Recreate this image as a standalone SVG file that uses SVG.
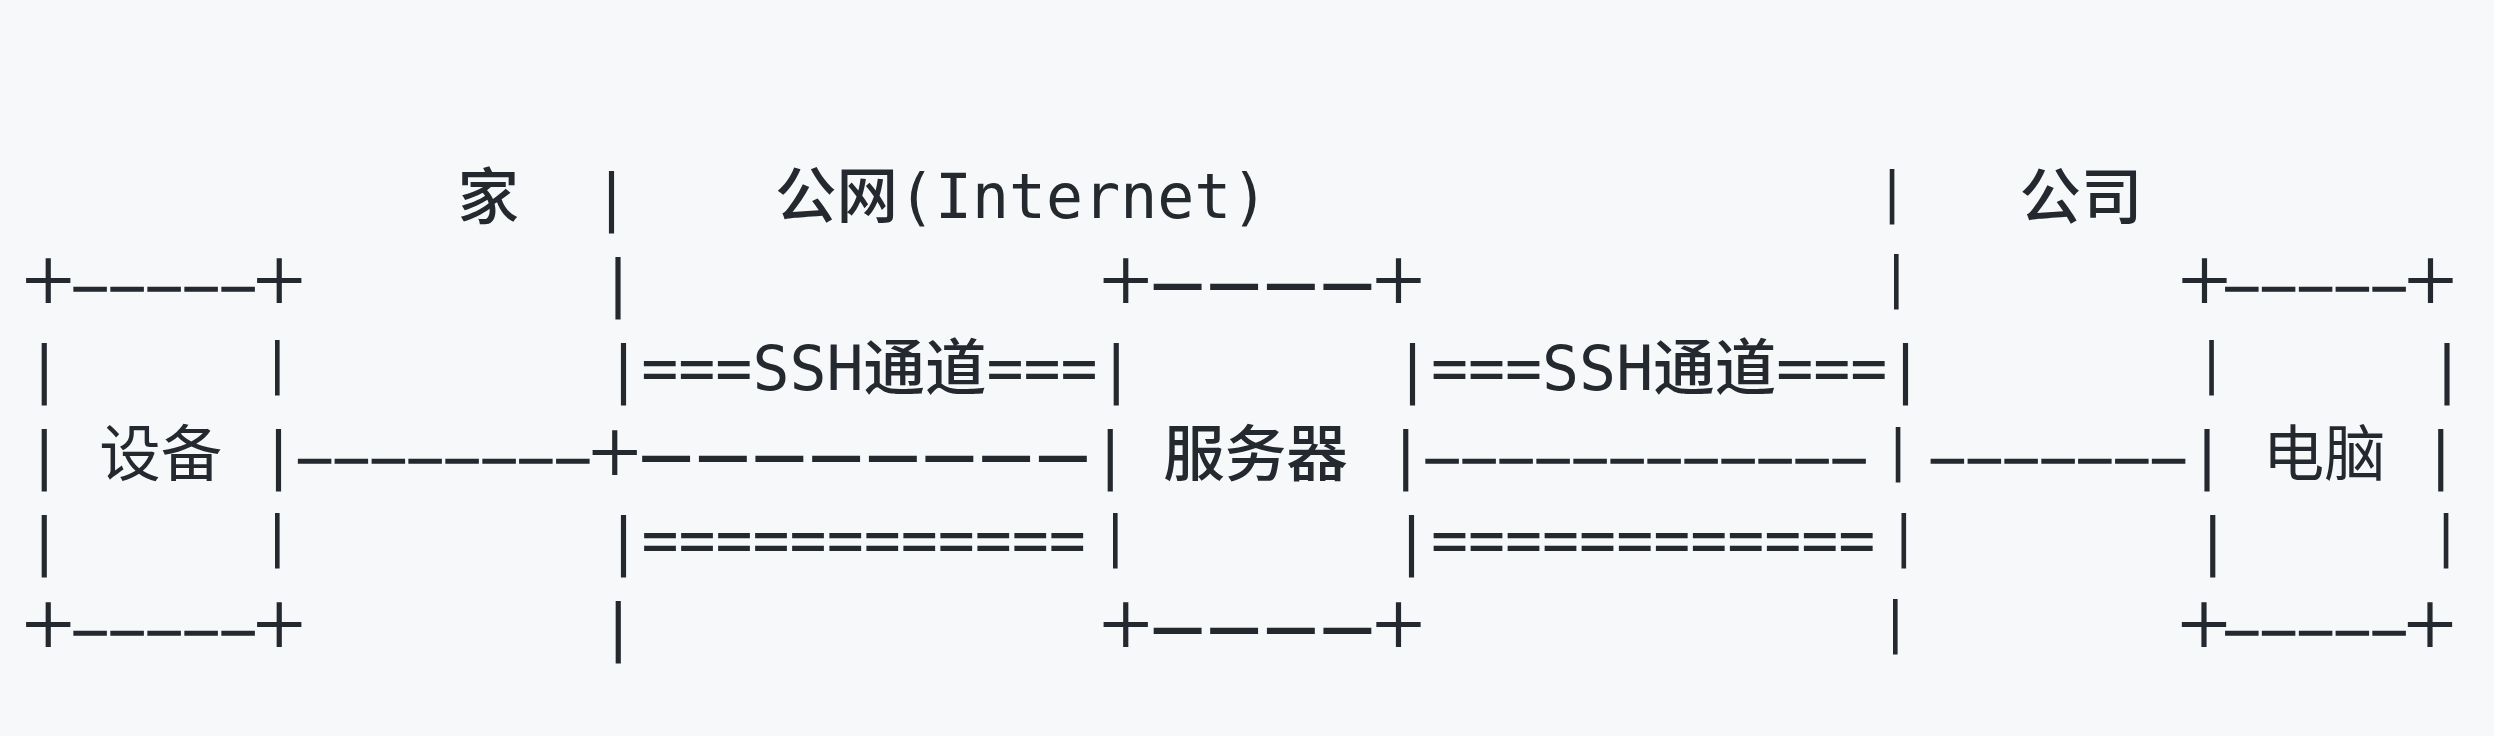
<svg xmlns="http://www.w3.org/2000/svg" width="2494" height="736" viewBox="0 0 2494 736">
<style>
.t{font-family:'DejaVu Sans Mono','Noto Sans CJK SC',monospace;font-size:61.5px;fill:#24292f}
.c{font-family:'Noto Sans CJK SC',sans-serif;font-size:61.5px;fill:#24292f}
.v{font-family:'DejaVu Sans Mono',monospace;font-size:55px;fill:#24292f}
.d{font-family:'DejaVu Sans Mono',monospace;font-size:53.5px;fill:#24292f;stroke:#24292f;stroke-width:1.3px}
.L{font-family:'Noto Sans CJK SC',sans-serif;font-size:57px;font-weight:500;fill:#24292f;stroke:#24292f;stroke-width:2px}
.b{font-weight:500}
.m{text-anchor:middle}
</style>
<rect width="2494" height="736" fill="#f6f8fa"/>
<g id="zones">
<text class="c b m" x="488.2" y="219">家</text>
<text class="t" x="775" y="218"><tspan class="b">公网</tspan>(Internet)</text>
<text class="c b m" x="2081" y="219">公司</text>
<text class="t m" x="611.5" y="218">|</text>
<text class="t m" x="618" y="304">|</text>
<text class="t m" x="623.5" y="390">|</text>
<text class="t m" x="623.5" y="562">|</text>
<text class="t m" x="618.2" y="648">|</text>
<text class="v m" x="1892" y="211">|</text>
<text class="v m" x="1896.4" y="296">|</text>
<text class="t m" x="1905.4" y="390">|</text>
<text class="v m" x="1898" y="468.5">|</text>
<text class="v m" x="1903.7" y="554.5">|</text>
<text class="v m" x="1895.2" y="640.5">|</text>
</g>
<g id="node-device">
<text class="c b m" x="48.2 279.2" y="304">＋＋</text>
<text class="d m" x="90 127.05 164.1 201.15 238.2" y="304">—————</text>
<text class="t m" x="44.2" y="390">|</text>
<text class="v m" x="277.2" y="382">|</text>
<text class="t m" x="44.2" y="476">|</text>
<text class="c m" x="160.7" y="476">设备</text>
<text class="t m" x="278.4" y="476">|</text>
<text class="t m" x="44.2" y="562">|</text>
<text class="v m" x="277.2" y="554.5">|</text>
<text class="c b m" x="48.2 279.2" y="648">＋＋</text>
<text class="d m" x="90 127.05 164.1 201.15 238.2" y="648">—————</text>
</g>
<g id="node-server">
<text class="c b m" x="1125.8 1398.5" y="304">＋＋</text>
<text class="L m" x="1177.6 1234.2 1290.8 1347.4" y="302.5">————</text>
<text class="t m" x="1116.3" y="390">|</text>
<text class="t m" x="1412.5" y="390">|</text>
<text class="t m" x="1110.2" y="476">|</text>
<text class="c b m" x="1255.4" y="476">服务器</text>
<text class="t m" x="1405.8" y="476">|</text>
<text class="v m" x="1115.2" y="554.5">|</text>
<text class="t m" x="1411.4" y="562">|</text>
<text class="c b m" x="1125.8 1398.5" y="648">＋＋</text>
<text class="L m" x="1177.6 1234.2 1290.8 1347.4" y="646.5">————</text>
</g>
<g id="node-pc">
<text class="c b m" x="2204.5 2430.5" y="304">＋＋</text>
<text class="d m" x="2241.8 2278.65 2315.5 2352.35 2389.2" y="304">—————</text>
<text class="v m" x="2211.6" y="382">|</text>
<text class="t m" x="2447" y="390">|</text>
<text class="t m" x="2206.9" y="476">|</text>
<text class="c m" x="2324.3" y="476">电脑</text>
<text class="t m" x="2440.8" y="476">|</text>
<text class="t m" x="2212.8" y="562">|</text>
<text class="v m" x="2446" y="554.5">|</text>
<text class="c b m" x="2204 2430" y="648">＋＋</text>
<text class="d m" x="2241.8 2278.65 2315.5 2352.35 2389.2" y="648">—————</text>
</g>
<g id="connectors">
<text class="t" x="641.3" y="390">===SSH<tspan class="b">通道</tspan>===</text>
<text class="t" x="1431" y="390">===SSH<tspan class="b">通道</tspan>===</text>
<text class="d m" x="314.5 351.4 388.3 425.2 462.1 499 535.9 572.8" y="476">————————</text>
<text class="c b m" x="614.8" y="476">＋</text>
<text class="L m" x="666.2 722.9 779.5 836.2 892.8 949.5 1006.2 1062.8" y="474.5">————————</text>
<text class="d m" x="1442.2 1479.2 1516.2 1553.2 1590.2 1627.2 1664.2 1701.2 1738.2 1775.2 1812.2 1849.2" y="476">————————————</text>
<text class="d m" x="1947.4 1984.3 2021.2 2058 2094.9 2131.8 2168.7" y="476">———————</text>
<text class="t" x="641.5" y="562">============</text>
<text class="t" x="1431" y="562">============</text>
</g>
</svg>
